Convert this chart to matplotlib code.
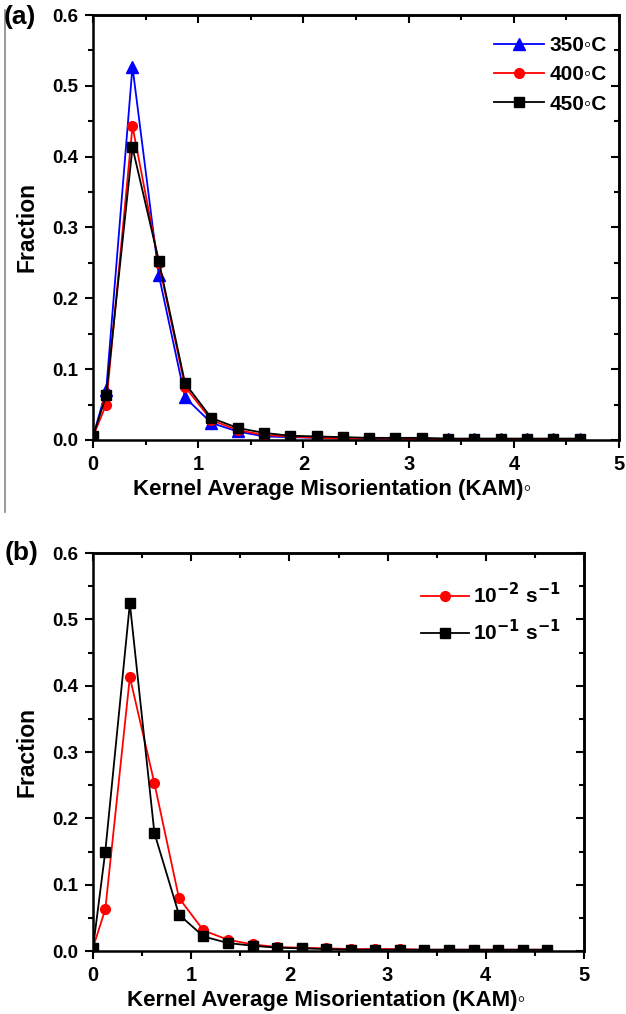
import matplotlib
matplotlib.use("Agg")
import matplotlib.pyplot as plt
from matplotlib.ticker import MultipleLocator
from matplotlib.lines import Line2D

plt.rcParams['font.family'] = ['Liberation Sans', 'DejaVu Sans']
plt.rcParams['font.weight'] = 'bold'
plt.rcParams['mathtext.default'] = 'bf'

kam = [0, 0.125, 0.375, 0.625, 0.875, 1.125, 1.375, 1.625, 1.875, 2.125,
       2.375, 2.625, 2.875, 3.125, 3.375, 3.625, 3.875, 4.125, 4.375, 4.625]

t350 = [0.005, 0.070, 0.527, 0.233, 0.060, 0.024, 0.012, 0.005, 0.004, 0.003,
        0.002, 0.002, 0.002, 0.001, 0.001, 0.001, 0.001, 0.001, 0.001, 0.001]
t400 = [0.005, 0.050, 0.443, 0.250, 0.075, 0.028, 0.014, 0.007, 0.005, 0.003,
        0.002, 0.002, 0.002, 0.001, 0.001, 0.001, 0.001, 0.001, 0.001, 0.001]
t450 = [0.005, 0.063, 0.413, 0.253, 0.080, 0.031, 0.017, 0.010, 0.006, 0.005,
        0.004, 0.003, 0.003, 0.003, 0.002, 0.002, 0.002, 0.002, 0.002, 0.002]

r_e2 = [0.005, 0.063, 0.413, 0.253, 0.080, 0.031, 0.017, 0.010, 0.006, 0.005,
        0.004, 0.003, 0.003, 0.003, 0.002, 0.002, 0.002, 0.002, 0.002, 0.002]
r_e1 = [0.005, 0.150, 0.524, 0.178, 0.055, 0.022, 0.012, 0.008, 0.005, 0.004,
        0.003, 0.002, 0.002, 0.002, 0.002, 0.002, 0.002, 0.002, 0.002, 0.002]

xticks = [0, 1, 2, 3, 4, 5]
yticks = [0.0, 0.1, 0.2, 0.3, 0.4, 0.5, 0.6]

fig = plt.figure(figsize=(6.26, 10.14), dpi=100)
ax1 = fig.add_axes([0.1486, 0.5661, 0.8403, 0.4191])
ax2 = fig.add_axes([0.1486, 0.0621, 0.7843, 0.3925])

def style(ax, xlab_x):
    ax.set_xlim(0, 5)
    ax.set_ylim(0, 0.6)
    ax.set_xticks(xticks)
    ax.set_yticks(yticks)
    ax.set_xticklabels([str(v) for v in xticks], fontsize=14.5, fontweight='bold')
    ax.set_yticklabels(['0.0' if v == 0 else f'{v:.1f}' for v in yticks],
                       fontsize=13.5, fontweight='bold')
    ax.xaxis.set_minor_locator(MultipleLocator(0.5))
    ax.yaxis.set_minor_locator(MultipleLocator(0.05))
    ax.tick_params(which='both', direction='out', top=False, right=False,
                   width=1.5)
    ax.tick_params(which='major', length=5.5)
    ax.tick_params(which='minor', length=3.5)
    ax.tick_params(axis='x', pad=5)
    ax.tick_params(axis='y', pad=5)
    for s in ax.spines.values():
        s.set_linewidth(1.8)
    # mirrored ticks on top and right pointing inward
    sx = ax.secondary_xaxis('top')
    sx.set_xticks(xticks)
    sx.xaxis.set_minor_locator(MultipleLocator(0.5))
    sx.tick_params(which='both', direction='in', labeltop=False, width=1.5)
    sx.tick_params(which='major', length=5.5)
    sx.tick_params(which='minor', length=3.5)
    sx.spines['top'].set_linewidth(1.8)
    sy = ax.secondary_yaxis('right')
    sy.set_yticks(yticks)
    sy.yaxis.set_minor_locator(MultipleLocator(0.05))
    sy.tick_params(which='both', direction='in', labelright=False, width=1.5)
    sy.tick_params(which='major', length=5.5)
    sy.tick_params(which='minor', length=3.5)
    sy.spines['right'].set_linewidth(1.8)
    ax.set_xlabel('Kernel Average Misorientation (KAM)\u25E6', fontsize=16,
                  fontweight='bold', labelpad=4)
    ax.xaxis.label.set_x(xlab_x)
    ax.set_ylabel('Fraction', fontsize=16.5, fontweight='bold', labelpad=10)

ms = 7
ax1.plot(kam, t350, color='#0000ff', marker='^', ms=ms + 1.5, lw=1.3, label='350\u25E6C')
ax1.plot(kam, t400, color='#ff0000', marker='o', ms=ms, lw=1.3, label='400\u25E6C')
ax1.plot(kam, t450, color='#000000', marker='s', ms=ms, lw=1.3, label='450\u25E6C')
style(ax1, 0.455)
leg1 = ax1.legend(loc='upper right', frameon=False, fontsize=15, handlelength=2.4,
                  handletextpad=0.25, labelspacing=0.5, bbox_to_anchor=(1.012, 0.995))

ax2.plot(kam, r_e2, color='#ff0000', marker='o', ms=ms, lw=1.3,
         label='10$^{-2}$ s$^{-1}$')
ax2.plot(kam, r_e1, color='#000000', marker='s', ms=ms, lw=1.3,
         label='10$^{-1}$ s$^{-1}$')
style(ax2, 0.475)
leg2 = ax2.legend(loc='upper right', frameon=False, fontsize=15, handlelength=2.3,
                  handletextpad=0.2, labelspacing=0.6, bbox_to_anchor=(0.99, 0.975))

fig.text(0.006, 0.983, '(a)', fontsize=19, fontweight='bold', va='center', ha='left')
fig.text(0.008, 0.4545, '(b)', fontsize=19, fontweight='bold', va='center', ha='left')

fig.add_artist(Line2D([0.008, 0.008], [0.495, 0.99], transform=fig.transFigure,
                      color='#888888', lw=1.2))

fig.savefig('out.png', dpi=100)
